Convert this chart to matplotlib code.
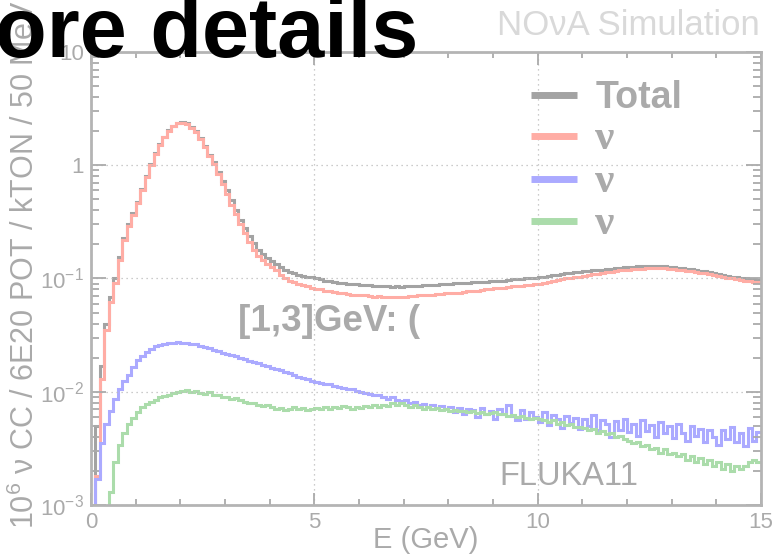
import numpy as np
import matplotlib
matplotlib.use('Agg')
import matplotlib.pyplot as plt
from matplotlib.ticker import FixedLocator, FixedFormatter, LogLocator, MultipleLocator
from matplotlib.lines import Line2D

# 100 MeV bins from 0 to 15 GeV
bin_edges = np.arange(0, 15.0001, 0.1)

total = [
    1e-5, 0.005, 0.017, 0.040, 0.068, 0.10, 0.155, 0.23, 0.30, 0.375,
    0.475, 0.62, 0.80, 1.03, 1.28, 1.53, 1.79, 2.03, 2.23, 2.38,
    2.42, 2.34, 2.19, 1.99, 1.74, 1.48, 1.24, 1.06, 0.88, 0.73,
    0.60, 0.49, 0.40, 0.33, 0.28, 0.235, 0.205, 0.18, 0.165, 0.152,
    0.143, 0.135, 0.126, 0.119, 0.115, 0.111, 0.108, 0.106, 0.104, 0.1025,
    0.100, 0.098, 0.096, 0.095, 0.094, 0.092, 0.091, 0.090, 0.089, 0.089,
    0.088, 0.088, 0.087, 0.086, 0.086, 0.085, 0.085, 0.084, 0.085, 0.084,
    0.085, 0.085, 0.086, 0.086, 0.087, 0.087, 0.088, 0.088, 0.089, 0.090,
    0.090, 0.091, 0.091, 0.092, 0.092, 0.093, 0.093, 0.094, 0.094, 0.095,
    0.095, 0.096, 0.096, 0.097, 0.098, 0.098, 0.099, 0.100, 0.101, 0.102,
    0.103, 0.104, 0.105, 0.107, 0.108, 0.110, 0.111, 0.112, 0.114, 0.115,
    0.116, 0.117, 0.118, 0.119, 0.120, 0.121, 0.122, 0.123, 0.125, 0.126,
    0.127, 0.127, 0.128, 0.128, 0.129, 0.129, 0.129, 0.129, 0.128, 0.127,
    0.126, 0.125, 0.124, 0.122, 0.121, 0.119, 0.117, 0.116, 0.114, 0.112,
    0.110, 0.108, 0.106, 0.104, 0.103, 0.101, 0.100, 0.099, 0.098, 0.097,
]

numu = [
    1e-5, 0.0018, 0.013, 0.035, 0.062, 0.092, 0.145, 0.22, 0.29, 0.36,
    0.46, 0.60, 0.78, 1.0, 1.25, 1.50, 1.76, 2.0, 2.2, 2.35,
    2.38, 2.30, 2.15, 1.95, 1.70, 1.44, 1.20, 1.02, 0.84, 0.69,
    0.56, 0.45, 0.37, 0.30, 0.25, 0.21, 0.18, 0.157, 0.145, 0.135,
    0.127, 0.118, 0.108, 0.100, 0.096, 0.093, 0.090, 0.087, 0.085, 0.083,
    0.081, 0.080, 0.078, 0.077, 0.076, 0.075, 0.074, 0.073, 0.072, 0.0715,
    0.071, 0.071, 0.0705, 0.069, 0.0695, 0.069, 0.068, 0.068, 0.069, 0.0685,
    0.069, 0.0695, 0.070, 0.071, 0.0715, 0.072, 0.072, 0.0725, 0.073, 0.074,
    0.074, 0.075, 0.075, 0.076, 0.077, 0.078, 0.078, 0.079, 0.080, 0.081,
    0.082, 0.082, 0.083, 0.084, 0.085, 0.086, 0.086, 0.087, 0.088, 0.089,
    0.090, 0.092, 0.093, 0.095, 0.097, 0.098, 0.100, 0.101, 0.103, 0.104,
    0.106, 0.107, 0.109, 0.110, 0.112, 0.113, 0.115, 0.116, 0.118, 0.119,
    0.120, 0.121, 0.122, 0.122, 0.123, 0.124, 0.124, 0.123, 0.123, 0.122,
    0.121, 0.120, 0.119, 0.117, 0.116, 0.114, 0.112, 0.111, 0.109, 0.107,
    0.105, 0.104, 0.102, 0.100, 0.099, 0.097, 0.096, 0.095, 0.094, 0.093,
]

numubar = [
    1e-5, 0.0017, 0.0035, 0.0052, 0.0068, 0.0087, 0.0105, 0.0125, 0.0142, 0.0165,
    0.019, 0.0208, 0.0225, 0.024, 0.0252, 0.026, 0.0266, 0.027, 0.0272, 0.0273,
    0.0272, 0.027, 0.0266, 0.0262, 0.0255, 0.025, 0.0242, 0.0236, 0.0228, 0.0222,
    0.0215, 0.021, 0.0205, 0.0199, 0.0195, 0.0188, 0.0183, 0.0178, 0.0173, 0.0168,
    0.0163, 0.0158, 0.0155, 0.0150, 0.0146, 0.0142, 0.0136, 0.0133, 0.013, 0.0124,
    0.0122, 0.0120, 0.0116, 0.0118, 0.0112, 0.0110, 0.0108, 0.0105, 0.0106, 0.0101,
    0.0099, 0.0097, 0.0096, 0.0093, 0.0094, 0.0089, 0.0087, 0.0090, 0.0085, 0.0083,
    0.0084, 0.0079, 0.0081, 0.0077, 0.0078, 0.0074, 0.0076, 0.0072, 0.0075, 0.0070,
    0.0074, 0.0066, 0.0072, 0.0063, 0.0071, 0.0069, 0.0060, 0.0072, 0.0064, 0.0068,
    0.0058, 0.0070, 0.0063, 0.0077, 0.0061, 0.0056, 0.0069, 0.0057, 0.0066, 0.0060,
    0.0054, 0.0066, 0.0051, 0.0062, 0.0058, 0.0048, 0.0061, 0.0053, 0.0059, 0.0047,
    0.0057, 0.0050, 0.0062, 0.0046, 0.0056, 0.0052, 0.0040, 0.0055, 0.0046, 0.0058,
    0.0044, 0.0052, 0.0041, 0.0056, 0.0045, 0.0051, 0.0040, 0.0054, 0.0043, 0.0050,
    0.0039, 0.0052, 0.0043, 0.0037, 0.0050, 0.0041, 0.0047, 0.0036, 0.0046, 0.0040,
    0.0034, 0.0046, 0.0038, 0.0049, 0.0036, 0.0043, 0.0033, 0.0048, 0.0037, 0.0044,
]

nue = [
    1e-5, 1e-5, 1e-5, 1e-5, 0.0013, 0.0024, 0.0034, 0.0043, 0.0052, 0.0059,
    0.0066, 0.0073, 0.0078, 0.0082, 0.0085, 0.0089, 0.0092, 0.0094, 0.0097, 0.0100,
    0.0102, 0.0103, 0.0099, 0.0101, 0.0097, 0.0096, 0.0099, 0.0094, 0.0093, 0.0090,
    0.0089, 0.0087, 0.0088, 0.0084, 0.0082, 0.0080, 0.0079, 0.0077, 0.0075, 0.0076,
    0.0073, 0.0071, 0.0072, 0.0069, 0.0070, 0.0073, 0.0070, 0.0072, 0.0069, 0.0071,
    0.0072, 0.0070, 0.0073, 0.0071, 0.0074, 0.0072, 0.0075, 0.0073, 0.0071, 0.0074,
    0.0072, 0.0075, 0.0073, 0.0076, 0.0074, 0.0077, 0.0075, 0.0079, 0.0077, 0.0080,
    0.0076, 0.0074, 0.0076, 0.0073, 0.0071, 0.0073, 0.0070, 0.0072, 0.0069, 0.0071,
    0.0068, 0.0069, 0.0067, 0.0068, 0.0066, 0.0067, 0.0065, 0.0066, 0.0064, 0.0065,
    0.0066, 0.0063, 0.0064, 0.0061, 0.0062, 0.0060, 0.0061, 0.0059, 0.0058, 0.0059,
    0.0057, 0.0056, 0.0054, 0.0056, 0.0052, 0.0054, 0.0051, 0.0052, 0.0049, 0.0049,
    0.0048, 0.0046, 0.0047, 0.0043, 0.0045, 0.0042, 0.0043, 0.0040, 0.0041, 0.0038,
    0.0037, 0.0035, 0.0036, 0.0033, 0.0034, 0.0031, 0.0032, 0.0029, 0.0031, 0.0028,
    0.0029, 0.0027, 0.0028, 0.0025, 0.0027, 0.0024, 0.0026, 0.0023, 0.0025, 0.0022,
    0.0024, 0.0021, 0.0023, 0.0020, 0.0022, 0.0021, 0.0022, 0.0024, 0.0025, 0.0024,
]

series_labels = ['Total', 'ν', 'ν', 'ν']
series_colors = ['#a3a3a3', '#ffada5', '#abaaff', '#abdcab']

y_ticks = [1e-3, 1e-2, 1e-1, 1, 10]
y_ticklabels = [r'$\mathregular{10^{-3}}$', r'$\mathregular{10^{-2}}$',
                r'$\mathregular{10^{-1}}$', '1', '10']
x_ticks = [0, 5, 10, 15]

GREY = '#aaaaaa'

plt.rcParams['font.family'] = ['Liberation Sans', 'DejaVu Sans']
plt.rcParams['mathtext.fontset'] = 'custom'
plt.rcParams['mathtext.rm'] = 'Liberation Sans'

fig = plt.figure(figsize=(7.82, 5.55), dpi=100)
ax = fig.add_axes([0.1164, 0.0901, 0.8567, 0.8162])

for vals, col in zip([total, numu, numubar, nue], series_colors):
    ax.stairs(vals, bin_edges, color=col, lw=2.2, baseline=None)

ax.set_yscale('log')
ax.set_xlim(0, 15)
ax.set_ylim(1e-3, 10)

ax.yaxis.set_major_locator(FixedLocator(y_ticks))
ax.yaxis.set_major_formatter(FixedFormatter(y_ticklabels))
ax.yaxis.set_minor_locator(LogLocator(base=10, subs=np.arange(2, 10)))
ax.xaxis.set_major_locator(FixedLocator(x_ticks))
ax.xaxis.set_minor_locator(MultipleLocator(1))

ax.tick_params(which='both', direction='in', top=True, right=True,
               colors=GREY, labelcolor=GREY, width=1.3)
ax.tick_params(which='major', length=9, labelsize=16, pad=5)
ax.tick_params(which='minor', length=4.5)
ax.tick_params(axis='y', which='major', length=11)
ax.tick_params(axis='y', which='minor', length=6)
for sp in ax.spines.values():
    sp.set_color('#b4b4b4')
    sp.set_linewidth(2)

ax.grid(True, which='major', color='#bbbbbb', linestyle=(0, (1, 3)), lw=0.9)

ax.set_xlabel('E (GeV)', color=GREY, fontsize=21, labelpad=-5)

# y title, runs off the top like the original
fig.text(0.032, 0.047, r'$\mathregular{10^{6}}$ ν CC / 6E20 POT / kTON / 50 MeV',
         rotation=90, ha='center', va='bottom', color=GREY, fontsize=22)

handles = [Line2D([], [], color=c, lw=5, solid_capstyle='butt')
           for c in series_colors]
leg = ax.legend(handles, series_labels, loc='upper left',
                bbox_to_anchor=(0.634, 0.972), frameon=False, fontsize=27,
                handlelength=1.22, handletextpad=0.5, labelspacing=0.12,
                borderaxespad=0)
for i, t in enumerate(leg.get_texts()):
    t.set_color(GREY)
    t.set_fontweight('bold')
    if i > 0:
        t.set_family(['Liberation Serif', 'DejaVu Serif'])
        t.set_fontsize(31)

ax.text(0.219, 0.385, '[1,3]GeV: (', transform=ax.transAxes, color=GREY,
        fontsize=26.5, fontweight='bold', ha='left', va='baseline')
ax.text(0.61, 0.044, 'FLUKA11', transform=ax.transAxes, color=GREY,
        fontsize=23.5, ha='left', va='baseline')

fig.text(0.972, 0.937, 'NOνA Simulation', color='#d9d9d9', fontsize=25,
         ha='right', va='baseline')
fig.text(0.535, 0.897, 'ore details', color='black', fontsize=61,
         fontweight='bold', ha='right', va='baseline', zorder=10)

fig.savefig('out.png', dpi=100)
